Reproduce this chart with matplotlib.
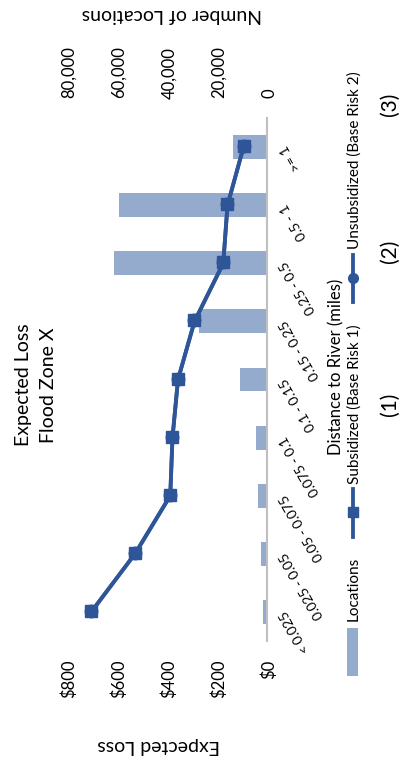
import matplotlib
matplotlib.use('Agg')
import matplotlib.pyplot as plt
from matplotlib.lines import Line2D
from matplotlib.patches import Patch
from matplotlib.ticker import FuncFormatter
import numpy as np

categories = ['< 0.025', '0.025 - 0.05', '0.05 - 0.075', '0.075 - 0.1', '0.1 - 0.15',
              '0.15 - 0.25', '0.25 - 0.5', '0.5 - 1', '>= 1']
locations = [1600, 2400, 3700, 4400, 10700, 27000, 61200, 59200, 13600]
loss_subsidized = [703, 528, 387, 378, 356, 290, 175, 158, 94]
loss_unsubsidized = [703, 528, 387, 378, 356, 290, 175, 158, 94]  # same in zone X, hidden below

plt.rcParams['font.family'] = ['Lato', 'DejaVu Sans']

bar_color = '#95abce'
line_color = '#2e5597'
axis_gray = '#bfbfbf'

# chart is built upright (762 x 404) and turned a quarter turn afterwards
fig = plt.figure(figsize=(7.62, 4.04), dpi=100)
ax = fig.add_axes([0.1588, 0.3391, 0.6863, 0.4951])
ax2 = ax.twinx()
ax.set_zorder(ax2.get_zorder() + 1)
ax.patch.set_visible(False)

x = np.arange(len(categories))
ax2.bar(x, locations, width=0.41, color=bar_color)
ax.plot(x, loss_unsubsidized, color=line_color, lw=2.75, marker='o', ms=9)
ax.plot(x, loss_subsidized, color=line_color, lw=2.75, marker='s', ms=9)

ax.set_xlim(-0.5, len(categories) - 0.5)
ax.set_ylim(0, 800)
ax.set_yticks(range(0, 801, 200))
ax2.set_ylim(0, 80000)
ax2.set_yticks(range(0, 80001, 20000))
ax.yaxis.set_major_formatter(FuncFormatter(lambda v, p: f'${v:,.0f}'))
ax2.yaxis.set_major_formatter(FuncFormatter(lambda v, p: f'{v:,.0f}'))

for a in (ax, ax2):
    for s in a.spines.values():
        s.set_visible(False)
ax.spines['bottom'].set_visible(True)
ax.spines['bottom'].set_color(axis_gray)
ax.spines['bottom'].set_linewidth(1.5)

ax.set_xticks(x)
ax.set_xticklabels(categories)
plt.setp(ax.get_xticklabels(), rotation=30, ha='right', va='center', rotation_mode='anchor')
ax.tick_params(axis='x', length=0, pad=11, labelsize=10)
ax.tick_params(axis='y', length=0, pad=15, labelsize=12)
ax2.tick_params(axis='y', length=0, pad=13, labelsize=12)

fig.text(0.4934, 0.913, 'Expected Loss\nFlood Zone X', ha='center', va='center',
         fontsize=14, linespacing=1.6)
fig.text(0.0197, 0.609, 'Expected Loss', rotation=90, ha='center', va='center', fontsize=14)
fig.text(0.980, 0.577, 'Number of Locations', rotation=90, ha='center', va='center', fontsize=14)
fig.text(0.517, 0.171, 'Distance to River (miles)', ha='center', va='center', fontsize=12)

handles = [Patch(facecolor=bar_color),
           Line2D([], [], color=line_color, lw=2.75, marker='s', ms=7),
           Line2D([], [], color=line_color, lw=2.75, marker='o', ms=7)]
labels = ['Locations', 'Subsidized (Base Risk 1)', 'Unsubsidized (Base Risk 2)']
fig.legend(handles, labels, loc='center', bbox_to_anchor=(0.509, 0.124), ncol=3,
           frameon=False, fontsize=11, handlelength=3.1, columnspacing=1.5,
           handletextpad=0.3)

for xpos, txt in [(0.467, '(1)'), (0.668, '(2)'), (0.860, '(3)')]:
    fig.text(xpos, 0.035, txt, ha='center', va='center', fontsize=15)

fig.canvas.draw()
img = np.asarray(fig.canvas.buffer_rgba())
plt.imsave('out.png', np.rot90(img, 1))
